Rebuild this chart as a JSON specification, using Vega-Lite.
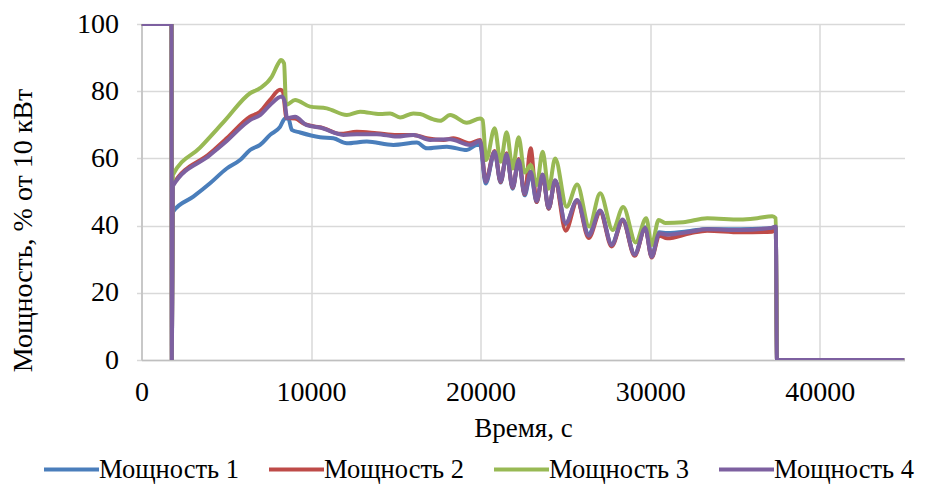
{
"$schema": "https://vega.github.io/schema/vega-lite/v6.json",
"width": 763, "height": 336,
"autosize": "none",
"padding": {"left": 141.5, "top": 24, "right": 30.5, "bottom": 124},
"background": "white",
"config": {"view": {"stroke": null}, "font": "Liberation Serif"},
"data": {"values": [
{"s":"Мощность 1","t":0,"v":100},{"s":"Мощность 1","t":1770,"v":100},{"s":"Мощность 1","t":1790,"v":0},{"s":"Мощность 1","t":1850,"v":44.1},
{"s":"Мощность 1","t":3056,"v":48.6},{"s":"Мощность 1","t":4042,"v":52.6},{"s":"Мощность 1","t":5027,"v":57.0},{"s":"Мощность 1","t":5812,"v":59.5},
{"s":"Мощность 1","t":6402,"v":62.5},{"s":"Мощность 1","t":6992,"v":64.0},{"s":"Мощность 1","t":7582,"v":67.0},{"s":"Мощность 1","t":8172,"v":69.4},
{"s":"Мощность 1","t":8467,"v":71.9},{"s":"Мощность 1","t":8661,"v":71.9},{"s":"Мощность 1","t":8862,"v":68.5},{"s":"Мощность 1","t":9352,"v":67.7},
{"s":"Мощность 1","t":10532,"v":66.3},{"s":"Мощность 1","t":11316,"v":66.0},{"s":"Мощность 1","t":12107,"v":64.5},{"s":"Мощность 1","t":13287,"v":65.0},
{"s":"Мощность 1","t":14856,"v":64.0},{"s":"Мощность 1","t":16237,"v":64.7},{"s":"Мощность 1","t":16827,"v":63.0},{"s":"Мощность 1","t":18007,"v":63.5},
{"s":"Мощность 1","t":19187,"v":62.5},{"s":"Мощность 1","t":19777,"v":64.0},{"s":"Мощность 1","t":19972,"v":64.0},
{"s":"Мощность 1","t":20296,"v":52.5},{"s":"Мощность 1","t":20827,"v":61.8},{"s":"Мощность 1","t":21181,"v":52.8},{"s":"Мощность 1","t":21535,"v":61.0},
{"s":"Мощность 1","t":21889,"v":51.0},{"s":"Мощность 1","t":22243,"v":59.3},{"s":"Мощность 1","t":22597,"v":49.0},{"s":"Мощность 1","t":22951,"v":55.5},
{"s":"Мощность 1","t":23305,"v":47.0},{"s":"Мощность 1","t":23659,"v":55.0},{"s":"Мощность 1","t":24013,"v":45.0},{"s":"Мощность 1","t":24397,"v":53.3},
{"s":"Мощность 1","t":25016,"v":40.5},{"s":"Мощность 1","t":25695,"v":47.5},{"s":"Мощность 1","t":26373,"v":37.5},{"s":"Мощность 1","t":27052,"v":44.2},
{"s":"Мощность 1","t":27730,"v":34.5},{"s":"Мощность 1","t":28379,"v":41.5},{"s":"Мощность 1","t":29087,"v":31.5},{"s":"Мощность 1","t":29707,"v":39.5},
{"s":"Мощность 1","t":30090,"v":31.0},{"s":"Мощность 1","t":30533,"v":38.0},{"s":"Мощность 1","t":31005,"v":37.8},{"s":"Мощность 1","t":32362,"v":38.4},
{"s":"Мощность 1","t":33365,"v":39.0},{"s":"Мощность 1","t":35312,"v":38.9},{"s":"Мощность 1","t":37200,"v":39.3},{"s":"Мощность 1","t":37406,"v":39.6},
{"s":"Мощность 1","t":37480,"v":0},{"s":"Мощность 1","t":45000,"v":0},

{"s":"Мощность 2","t":0,"v":100},{"s":"Мощность 2","t":1770,"v":100},{"s":"Мощность 2","t":1790,"v":0},{"s":"Мощность 2","t":1850,"v":52.1},
{"s":"Мощность 2","t":4042,"v":61.5},{"s":"Мощность 2","t":5027,"v":66.0},{"s":"Мощность 2","t":6402,"v":72.4},{"s":"Мощность 2","t":6992,"v":73.9},
{"s":"Мощность 2","t":7582,"v":77.4},{"s":"Мощность 2","t":8172,"v":80.4},{"s":"Мощность 2","t":8331,"v":79.9},{"s":"Мощность 2","t":8555,"v":72.0},
{"s":"Мощность 2","t":9057,"v":71.9},{"s":"Мощность 2","t":9546,"v":70.4},{"s":"Мощность 2","t":10119,"v":69.6},{"s":"Мощность 2","t":10726,"v":69.0},
{"s":"Мощность 2","t":11712,"v":67.3},{"s":"Мощность 2","t":12697,"v":67.9},{"s":"Мощность 2","t":13877,"v":67.5},{"s":"Мощность 2","t":15057,"v":67.0},
{"s":"Мощность 2","t":16036,"v":67.0},{"s":"Мощность 2","t":16827,"v":66.0},{"s":"Мощность 2","t":17806,"v":65.5},{"s":"Мощность 2","t":18396,"v":66.0},
{"s":"Мощность 2","t":19382,"v":64.5},{"s":"Мощность 2","t":19972,"v":65.5},
{"s":"Мощность 2","t":20296,"v":53.5},{"s":"Мощность 2","t":20827,"v":62.2},{"s":"Мощность 2","t":21181,"v":53.0},{"s":"Мощность 2","t":21535,"v":61.5},
{"s":"Мощность 2","t":21889,"v":51.3},{"s":"Мощность 2","t":22243,"v":59.8},{"s":"Мощность 2","t":22597,"v":49.3},{"s":"Мощность 2","t":22951,"v":63.0},
{"s":"Мощность 2","t":23305,"v":47.0},{"s":"Мощность 2","t":23659,"v":55.0},{"s":"Мощность 2","t":24013,"v":45.0},{"s":"Мощность 2","t":24397,"v":53.3},
{"s":"Мощность 2","t":25016,"v":38.5},{"s":"Мощность 2","t":25695,"v":47.3},{"s":"Мощность 2","t":26373,"v":36.3},{"s":"Мощность 2","t":27052,"v":44.0},
{"s":"Мощность 2","t":27730,"v":33.8},{"s":"Мощность 2","t":28379,"v":41.5},{"s":"Мощность 2","t":29087,"v":31.0},{"s":"Мощность 2","t":29707,"v":39.3},
{"s":"Мощность 2","t":30090,"v":30.5},{"s":"Мощность 2","t":30533,"v":37.0},{"s":"Мощность 2","t":31005,"v":36.2},{"s":"Мощность 2","t":32362,"v":37.7},
{"s":"Мощность 2","t":33365,"v":38.5},{"s":"Мощность 2","t":35312,"v":38.0},{"s":"Мощность 2","t":37200,"v":38.2},{"s":"Мощность 2","t":37406,"v":39.0},
{"s":"Мощность 2","t":37480,"v":0},{"s":"Мощность 2","t":45000,"v":0},

{"s":"Мощность 3","t":0,"v":100},{"s":"Мощность 3","t":1770,"v":100},{"s":"Мощность 3","t":1790,"v":0},{"s":"Мощность 3","t":1850,"v":55.1},
{"s":"Мощность 3","t":3452,"v":63.2},{"s":"Мощность 3","t":4927,"v":71.3},{"s":"Мощность 3","t":6402,"v":79.4},{"s":"Мощность 3","t":6992,"v":80.9},
{"s":"Мощность 3","t":7682,"v":84.3},{"s":"Мощность 3","t":8071,"v":88.3},{"s":"Мощность 3","t":8213,"v":89.3},{"s":"Мощность 3","t":8408,"v":88.3},
{"s":"Мощность 3","t":8526,"v":75.9},{"s":"Мощность 3","t":9057,"v":77.4},{"s":"Мощность 3","t":9942,"v":75.4},{"s":"Мощность 3","t":10927,"v":74.9},
{"s":"Мощность 3","t":12107,"v":72.9},{"s":"Мощность 3","t":12892,"v":73.9},{"s":"Мощность 3","t":14072,"v":73.2},{"s":"Мощность 3","t":14662,"v":73.4},
{"s":"Мощность 3","t":15252,"v":72.2},{"s":"Мощность 3","t":16036,"v":73.4},{"s":"Мощность 3","t":16432,"v":73.2},{"s":"Мощность 3","t":17216,"v":71.6},
{"s":"Мощность 3","t":17612,"v":71.2},{"s":"Мощность 3","t":18202,"v":72.9},{"s":"Мощность 3","t":19187,"v":70.6},{"s":"Мощность 3","t":19972,"v":71.9},
{"s":"Мощность 3","t":20119,"v":71.4},
{"s":"Мощность 3","t":20326,"v":59.5},{"s":"Мощность 3","t":20827,"v":69.0},{"s":"Мощность 3","t":21181,"v":59.0},{"s":"Мощность 3","t":21535,"v":67.8},
{"s":"Мощность 3","t":21889,"v":57.0},{"s":"Мощность 3","t":22243,"v":66.3},{"s":"Мощность 3","t":22597,"v":55.8},{"s":"Мощность 3","t":22951,"v":58.0},
{"s":"Мощность 3","t":23305,"v":52.0},{"s":"Мощность 3","t":23659,"v":62.0},{"s":"Мощность 3","t":24013,"v":51.0},{"s":"Мощность 3","t":24397,"v":60.0},
{"s":"Мощность 3","t":25075,"v":45.6},{"s":"Мощность 3","t":25695,"v":52.2},{"s":"Мощность 3","t":26403,"v":39.7},{"s":"Мощность 3","t":27052,"v":49.6},
{"s":"Мощность 3","t":27789,"v":38.7},{"s":"Мощность 3","t":28409,"v":45.5},{"s":"Мощность 3","t":29146,"v":35.0},{"s":"Мощность 3","t":29766,"v":42.2},
{"s":"Мощность 3","t":30090,"v":34.2},{"s":"Мощность 3","t":30503,"v":41.7},{"s":"Мощность 3","t":30887,"v":40.8},{"s":"Мощность 3","t":31949,"v":41.0},
{"s":"Мощность 3","t":33365,"v":42.2},{"s":"Мощность 3","t":35312,"v":41.8},{"s":"Мощность 3","t":36315,"v":42.2},{"s":"Мощность 3","t":37200,"v":42.8},
{"s":"Мощность 3","t":37406,"v":42.2},{"s":"Мощность 3","t":37480,"v":0},{"s":"Мощность 3","t":45000,"v":0},

{"s":"Мощность 4","t":0,"v":100},{"s":"Мощность 4","t":1770,"v":100},{"s":"Мощность 4","t":1790,"v":0},{"s":"Мощность 4","t":1850,"v":51.8},
{"s":"Мощность 4","t":4042,"v":61.0},{"s":"Мощность 4","t":5027,"v":65.2},{"s":"Мощность 4","t":6402,"v":71.4},{"s":"Мощность 4","t":6992,"v":72.9},
{"s":"Мощность 4","t":7582,"v":75.9},{"s":"Мощность 4","t":8272,"v":78.4},{"s":"Мощность 4","t":8437,"v":77.0},{"s":"Мощность 4","t":8585,"v":72.0},
{"s":"Мощность 4","t":9057,"v":72.4},{"s":"Мощность 4","t":9747,"v":69.9},{"s":"Мощность 4","t":10532,"v":69.2},{"s":"Мощность 4","t":11906,"v":67.0},
{"s":"Мощность 4","t":12697,"v":67.2},{"s":"Мощность 4","t":13877,"v":67.2},{"s":"Мощность 4","t":15057,"v":66.5},{"s":"Мощность 4","t":16036,"v":67.0},
{"s":"Мощность 4","t":17022,"v":65.5},{"s":"Мощность 4","t":18202,"v":65.7},{"s":"Мощность 4","t":19382,"v":64.0},{"s":"Мощность 4","t":19972,"v":65.2},
{"s":"Мощность 4","t":20296,"v":53.0},{"s":"Мощность 4","t":20827,"v":62.0},{"s":"Мощность 4","t":21181,"v":53.2},{"s":"Мощность 4","t":21535,"v":61.2},
{"s":"Мощность 4","t":21889,"v":51.5},{"s":"Мощность 4","t":22243,"v":59.5},{"s":"Мощность 4","t":22597,"v":49.5},{"s":"Мощность 4","t":22951,"v":56.0},
{"s":"Мощность 4","t":23305,"v":47.3},{"s":"Мощность 4","t":23659,"v":55.2},{"s":"Мощность 4","t":24013,"v":45.3},{"s":"Мощность 4","t":24397,"v":53.5},
{"s":"Мощность 4","t":25016,"v":40.7},{"s":"Мощность 4","t":25695,"v":47.6},{"s":"Мощность 4","t":26373,"v":37.0},{"s":"Мощность 4","t":27052,"v":44.5},
{"s":"Мощность 4","t":27730,"v":34.2},{"s":"Мощность 4","t":28379,"v":41.8},{"s":"Мощность 4","t":29087,"v":31.3},{"s":"Мощность 4","t":29707,"v":39.3},
{"s":"Мощность 4","t":30090,"v":30.7},{"s":"Мощность 4","t":30533,"v":37.7},{"s":"Мощность 4","t":31005,"v":37.3},{"s":"Мощность 4","t":32362,"v":38.2},
{"s":"Мощность 4","t":33365,"v":38.9},{"s":"Мощность 4","t":35312,"v":38.7},{"s":"Мощность 4","t":37200,"v":39.4},{"s":"Мощность 4","t":37406,"v":39.7},
{"s":"Мощность 4","t":37480,"v":0},{"s":"Мощность 4","t":45000,"v":0}
]},
"mark": {"type": "line", "interpolate": "monotone", "strokeWidth": 4, "clip": true},
"encoding": {
  "x": {"field": "t", "type": "quantitative",
        "scale": {"domain": [0, 45000], "nice": false, "zero": true},
        "axis": {"title": "Время, с", "values": [0, 10000, 20000, 30000, 40000], "format": "d",
                 "labelFontSize": 28, "titleFontSize": 27, "titleFontWeight": "normal",
                 "labelColor": "black", "titleColor": "black", "labelFont": "Liberation Serif", "titleFont": "Liberation Serif",
                 "grid": true, "gridColor": "#d9d9d9", "gridWidth": 1.5,
                 "domainColor": "#bfbfbf", "domainWidth": 1.5, "ticks": false,
                 "labelPadding": 18, "titlePadding": 9, "labelFlush": false, "labelOverlap": false}},
  "y": {"field": "v", "type": "quantitative",
        "scale": {"domain": [0, 100], "nice": false},
        "axis": {"title": "Мощность, % от 10 кВт", "values": [0, 20, 40, 60, 80, 100],
                 "labelFontSize": 28, "titleFontSize": 28, "titleFontWeight": "normal",
                 "labelColor": "black", "titleColor": "black", "labelFont": "Liberation Serif", "titleFont": "Liberation Serif",
                 "grid": true, "gridColor": "#d9d9d9", "gridWidth": 1.5,
                 "domainColor": "#bfbfbf", "domainWidth": 1.5, "ticks": true, "tickColor": "#d9d9d9", "tickSize": 5, "tickWidth": 1.5,
                 "labelPadding": 18,
                 "titleAngle": -90, "titleAlign": "center", "titleBaseline": "middle", "titleX": -118, "titleY": 206,
                 "labelFlush": false, "labelOverlap": false}},
  "color": {"field": "s", "type": "nominal",
            "scale": {"domain": ["Мощность 1", "Мощность 2", "Мощность 3", "Мощность 4"],
                      "range": ["#4a7ebb", "#be4b48", "#98b954", "#7d60a0"]},
            "legend": {"title": null, "orient": "none", "direction": "horizontal", "legendX": -99.5, "legendY": 416,
                       "symbolType": "stroke", "symbolSize": 3025, "symbolStrokeWidth": 4,
                       "labelFontSize": 26.5, "labelFont": "Liberation Serif", "labelColor": "black",
                       "labelOffset": -2, "columnPadding": 22, "padding": 0, "labelLimit": 300}}
}
}
